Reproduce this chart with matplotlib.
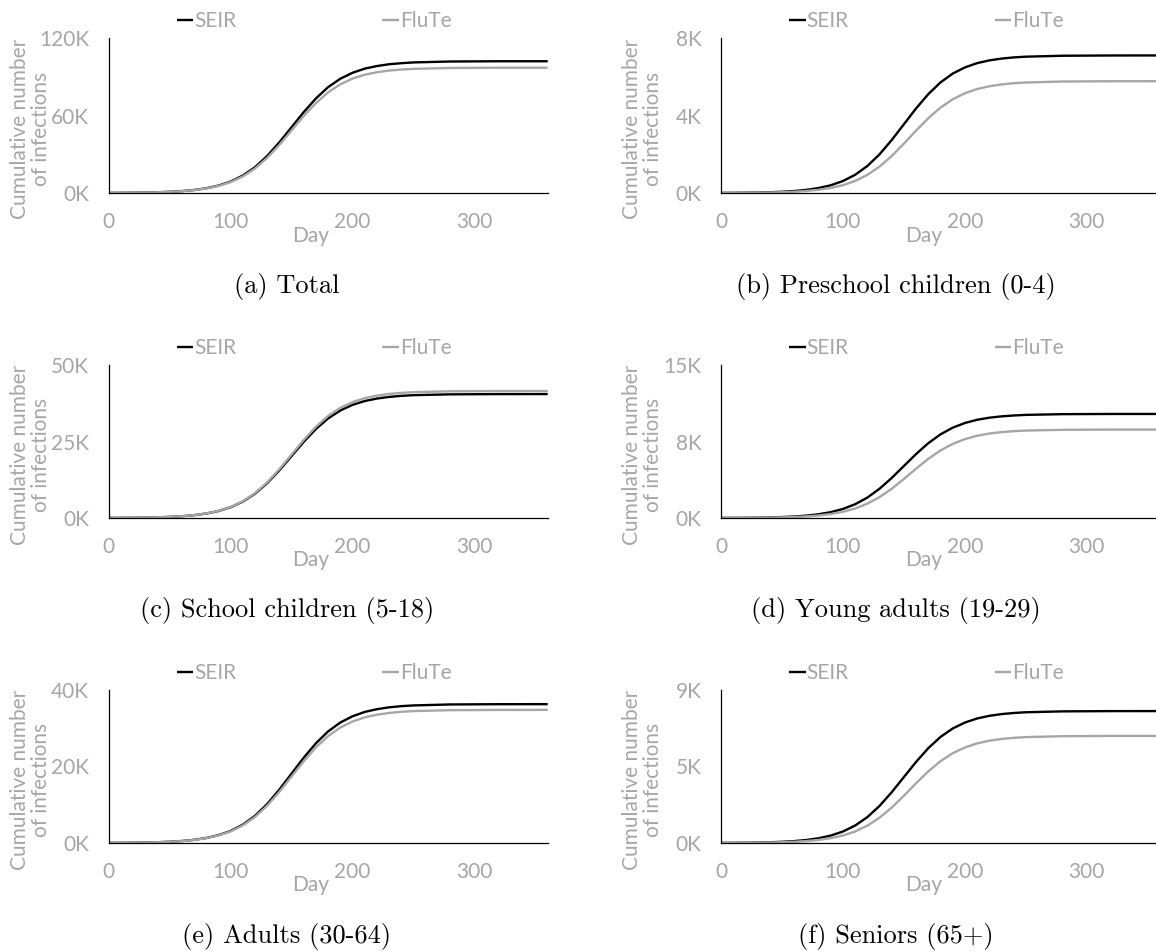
import numpy as np
import matplotlib
matplotlib.use("Agg")
import matplotlib.pyplot as plt

plt.rcParams['font.family'] = ['Lato', 'DejaVu Sans']

# days sampled from the curves (values in thousands of infections)
days = [0, 10, 20, 30, 40, 50, 60, 70, 80, 90, 100, 110, 120, 130, 140, 150, 160, 170,
        180, 190, 200, 210, 220, 230, 240, 250, 280, 320, 360]

total_seir = [0.09, 0.14, 0.22, 0.36, 0.58, 0.92, 1.47, 2.33, 3.67, 5.73, 8.87, 13.5, 20.0, 28.7,
              39.3, 51.0, 62.7, 73.3, 82.0, 88.5, 93.1, 96.3, 98.3, 99.7, 100.5, 101.1, 101.8, 102.0, 102.0]
total_flute = [0.08, 0.13, 0.21, 0.34, 0.55, 0.87, 1.40, 2.21, 3.49, 5.45, 8.44, 12.8, 19.0, 27.3,
               37.3, 48.5, 59.7, 69.7, 78.0, 84.2, 88.6, 91.6, 93.5, 94.8, 95.6, 96.1, 96.8, 97.0, 97.0]

pre_seir = [0.006, 0.010, 0.016, 0.025, 0.040, 0.064, 0.102, 0.162, 0.256, 0.399, 0.618, 0.940, 1.392, 1.995,
            2.734, 3.55, 4.367, 5.105, 5.708, 6.163, 6.482, 6.702, 6.844, 6.937, 6.998, 7.036, 7.084, 7.098, 7.1]
pre_flute = [0.004, 0.006, 0.010, 0.016, 0.026, 0.041, 0.066, 0.104, 0.166, 0.260, 0.404, 0.621, 0.934, 1.362,
             1.910, 2.547, 3.223, 3.860, 4.408, 4.835, 5.147, 5.366, 5.510, 5.604, 5.666, 5.704, 5.754, 5.768, 5.77]

school_seir = [0.035, 0.056, 0.089, 0.143, 0.229, 0.365, 0.583, 0.923, 1.458, 2.276, 3.524, 5.362, 7.938, 11.38,
               15.59, 20.25, 24.91, 29.12, 32.56, 35.15, 36.98, 38.23, 39.04, 39.57, 39.92, 40.14, 40.41, 40.49, 40.5]
school_flute = [0.036, 0.058, 0.091, 0.147, 0.234, 0.374, 0.598, 0.946, 1.494, 2.332, 3.611, 5.495, 8.134, 11.66,
                15.98, 20.75, 25.52, 29.84, 33.37, 36.02, 37.89, 39.18, 40.01, 40.55, 40.90, 41.13, 41.41, 41.49, 41.5]

young_seir = [0.009, 0.014, 0.022, 0.036, 0.058, 0.092, 0.147, 0.233, 0.367, 0.573, 0.887, 1.350, 1.999, 2.866,
              3.927, 5.10, 6.273, 7.334, 8.201, 8.854, 9.313, 9.629, 9.833, 9.965, 10.05, 10.11, 10.18, 10.20, 10.2]
young_flute = [0.006, 0.010, 0.015, 0.024, 0.039, 0.062, 0.099, 0.157, 0.249, 0.390, 0.608, 0.933, 1.403, 2.046,
               2.870, 3.828, 4.842, 5.800, 6.624, 7.265, 7.734, 8.063, 8.280, 8.421, 8.513, 8.571, 8.646, 8.667, 8.67]

adult_seir = [0.032, 0.050, 0.080, 0.129, 0.205, 0.327, 0.523, 0.828, 1.307, 2.040, 3.158, 4.806, 7.115, 10.20,
              13.98, 18.15, 22.32, 26.10, 29.19, 31.51, 33.14, 34.27, 34.99, 35.47, 35.78, 35.97, 36.22, 36.29, 36.3]
adult_flute = [0.030, 0.048, 0.077, 0.123, 0.197, 0.313, 0.501, 0.793, 1.253, 1.956, 3.028, 4.608, 6.821, 9.779,
               13.40, 17.40, 21.40, 25.02, 27.98, 30.21, 31.77, 32.85, 33.55, 34.00, 34.30, 34.49, 34.72, 34.79, 34.8]

senior_seir = [0.007, 0.011, 0.017, 0.027, 0.044, 0.070, 0.112, 0.177, 0.279, 0.436, 0.675, 1.027, 1.521, 2.181,
               2.988, 3.88, 4.772, 5.579, 6.239, 6.736, 7.085, 7.325, 7.481, 7.582, 7.648, 7.690, 7.743, 7.758, 7.76]
senior_flute = [0.004, 0.007, 0.011, 0.018, 0.028, 0.045, 0.072, 0.114, 0.181, 0.284, 0.442, 0.678, 1.019, 1.487,
                2.085, 2.781, 3.519, 4.215, 4.813, 5.279, 5.620, 5.859, 6.017, 6.119, 6.186, 6.228, 6.282, 6.298, 6.3]

captions = ["(a) Total", "(b) Preschool children (0-4)", "(c) School children (5-18)",
            "(d) Young adults (19-29)", "(e) Adults (30-64)", "(f) Seniors (65+)"]
seir_series = [total_seir, pre_seir, school_seir, young_seir, adult_seir, senior_seir]
flute_series = [total_flute, pre_flute, school_flute, young_flute, adult_flute, senior_flute]
y_ticks = [[0, 60, 120], [0, 4, 8], [0, 25, 50], [0, 7.5, 15], [0, 20, 40], [0, 4.5, 9]]
y_ticklabels = [["0K", "60K", "120K"], ["0K", "4K", "8K"], ["0K", "25K", "50K"],
                ["0K", "8K", "15K"], ["0K", "20K", "40K"], ["0K", "5K", "9K"]]
x_ticks = [0, 100, 200, 300]
ylabel_lines = ["Cumulative number", "of infections"]

GRAY = '#A6A6A6'
W, H = 1156, 952
FS = 15
fig = plt.figure(figsize=(W / 100, H / 100), dpi=100)

col_left = [108.7, 721]
row_top = [38, 365, 690]
row_bot = [193, 518, 843]
cap_y = [287, 610, 937]
cap_x = [287, 896]
ax_w = 439

for i in range(6):
    r, c = i // 2, i % 2
    ax = fig.add_axes([col_left[c] / W, 1 - row_bot[r] / H, ax_w / W, (row_bot[r] - row_top[r]) / H])
    ax.plot(days, seir_series[i], color='black', lw=1.7, label='SEIR', solid_capstyle='butt')
    ax.plot(days, flute_series[i], color=GRAY, lw=1.7, label='FluTe', solid_capstyle='butt')
    ax.set_xlim(0, 360)
    ax.set_ylim(0, y_ticks[i][-1])
    ax.set_xticks(x_ticks)
    ax.set_yticks(y_ticks[i])
    ax.set_yticklabels(y_ticklabels[i])
    ax.tick_params(length=0, labelsize=FS, labelcolor=GRAY)
    ax.tick_params(axis='y', pad=14)
    ax.tick_params(axis='x', pad=14)
    for s in ['top', 'right']:
        ax.spines[s].set_visible(False)
    for s in ['left', 'bottom']:
        ax.spines[s].set_color('black')
        ax.spines[s].set_linewidth(0.9)
    ax.set_xlabel("Day", fontsize=FS, color=GRAY)
    ax.xaxis.set_label_coords(0.461, -0.275)
    ax.xaxis.label.set_va('center')
    # two-line y label, drawn line by line
    for txt, xoff in zip(ylabel_lines, [-0.203, -0.155]):
        ax.text(xoff, 0.413, txt, transform=ax.transAxes, rotation=90, ha='center', va='center',
                fontsize=FS, color=GRAY)
    ax.legend(loc='center left', bbox_to_anchor=(68 / ax_w, 1 + 17 / 155), ncol=2, frameon=False,
              fontsize=FS, labelcolor=GRAY, handlelength=0.8, handletextpad=0.05,
              columnspacing=7.0, borderpad=0, borderaxespad=0)
    fig.text(cap_x[c] / W, 1 - cap_y[r] / H, captions[i], ha='center', va='center',
             fontsize=19, family=['cmr10', 'DejaVu Serif'])

fig.savefig("out.png", dpi=100)
